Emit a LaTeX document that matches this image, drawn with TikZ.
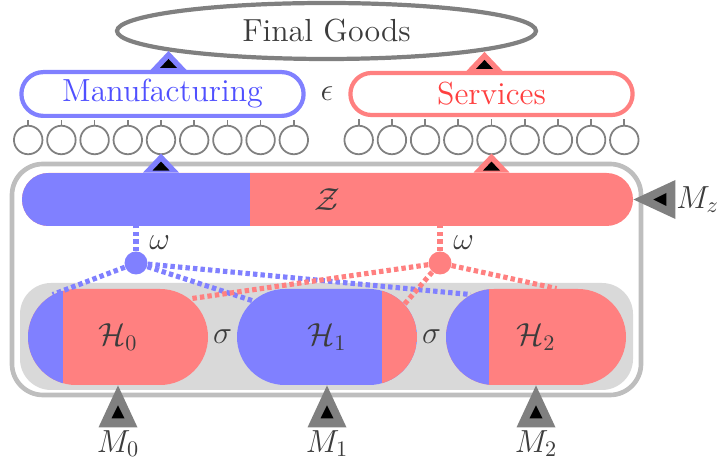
\documentclass[tikz,border=0pt]{standalone}
\usetikzlibrary{shapes.geometric, shapes.misc, positioning, calc}
\usepackage{amsmath}
\definecolor{sectorBlue}{RGB}{128,128,255}
\definecolor{sectorRed}{RGB}{255,128,128}
\definecolor{labelBlue}{RGB}{80,80,255}
\definecolor{labelRed}{RGB}{255,64,64}
\definecolor{frameSilver}{RGB}{190,190,190}
\definecolor{bandGray}{RGB}{217,217,217}
\definecolor{inkGray}{RGB}{60,60,60}
\newlength{\pxu}
\setlength{\pxu}{0.451pt}

\tikzset{
  outport/.pic={
    \fill[#1] (0,-19) -- (-18,0) -- (18,0) -- cycle;
    \fill[black] (0,-11) -- (-8.5,-2) -- (8.5,-2) -- cycle;
  },
  inport/.pic={
    \fill[gray] (0,0) -- (-19.5,42) -- (19.5,42) -- cycle;
    \fill[black] (0,20) -- (-6.5,33) -- (6.5,33) -- cycle;
  },
  blueleft/.style={path picture={\fill[sectorBlue] (path picture bounding box.south west) rectangle ([xshift=#1*\pxu]path picture bounding box.north west);}},
  redright/.style={path picture={\fill[sectorRed] ([xshift=-#1*\pxu]path picture bounding box.south east) rectangle (path picture bounding box.north east);}}
}

\begin{document}
\begin{tikzpicture}[
    x=\pxu, y=-\pxu,
    sector/.style={rounded rectangle, line width=1.9pt, fill=white, minimum width=297*\pxu, minimum height=42*\pxu, font=\Large},
    firm/.style={circle, draw=gray, line width=0.8pt, fill=white, minimum size=28.5*\pxu, inner sep=0pt},
    tick/.style={draw=gray, line width=0.8pt, shorten >=1pt},
    capsule/.style={rounded rectangle, fill=sectorRed, minimum width=180*\pxu, minimum height=96*\pxu, inner sep=0pt, font=\Large, text=inkGray},
    wdot/.style={circle, minimum size=23*\pxu, inner sep=0pt},
    link/.style={line width=2.3pt, dash pattern=on 2pt off 1.4pt},
    mlabel/.style={font=\Large, text=inkGray}
]
\useasboundingbox (0,0) rectangle (719,463);

% Final goods and sectors
\node[ellipse, draw=gray, line width=1.9pt, minimum width=419*\pxu, minimum height=56*\pxu, font=\Large, text=inkGray] (goods) at (326.5,31) {Final Goods};
\node[sector, draw=sectorBlue, text=labelBlue] (man) at (162.5,94) {Manufacturing};
\node[sector, draw=sectorRed, text=labelRed] (ser) at (491.5,94) {Services};
\node[mlabel] (eps) at ($(man.east)!0.5!(ser.west)$) {$\epsilon$};
\pic at ([xshift=6*\pxu]man.north) {outport=sectorBlue};
\pic at ([xshift=-7*\pxu]ser.north) {outport=sectorRed};

% Firms
\foreach \i in {1,...,9}{
  \node[firm] (mf\i) at ({161+33.2*(\i-5)},140) {};
  \node[firm] (sf\i) at ({491.5+33.2*(\i-5)},140) {};
  \draw[tick] (mf\i.north) -- (mf\i.north |- man.south);
  \draw[tick] (sf\i.north) -- (sf\i.north |- ser.south);
}

% Economy frame and household band
\node[draw=frameSilver, line width=2.1pt, rounded corners=14pt, minimum width=629*\pxu, minimum height=231*\pxu] (econ) at (326.5,279.5) {};
\node[fill=bandGray, rounded corners=14pt, minimum width=613*\pxu, minimum height=107*\pxu] (band) at (326.5,336.5) {};

% Capital stock
\node[capsule, blueleft=228, minimum width=611*\pxu, minimum height=53*\pxu] (z) at (327.5,199.5) {$\mathcal{Z}$};
\pic at (mf5 |- z.north) {outport=sectorBlue};
\pic at (sf5 |- z.north) {outport=sectorRed};
\pic[rotate=90] at (z.east) {inport};
\node[mlabel, right=35*\pxu of z] (labz) {$M_z$};

% Households
\node[capsule, blueleft=35] (h0) at (118,337) {$\mathcal{H}_0$};
\node[capsule, fill=sectorBlue, redright=35] (h1) at (327,337) {$\mathcal{H}_1$};
\node[capsule, blueleft=43] (h2) at (536,337) {$\mathcal{H}_2$};
\node[mlabel] (sig01) at ($(h0.east)!0.5!(h1.west)$) {$\sigma$};
\node[mlabel] (sig12) at ($(h1.east)!0.5!(h2.west)$) {$\sigma$};

\pic at (h0.south) {inport};
\pic at (h1.south) {inport};
\pic at (h2.south) {inport};
\node[mlabel, below=37*\pxu of h0] (lab0) {$M_0$};
\node[mlabel, below=37*\pxu of h1] (lab1) {$M_1$};
\node[mlabel, below=37*\pxu of h2] (lab2) {$M_2$};

% Ownership shares
\node[wdot, fill=sectorBlue] (wb) at (136,263) {};
\node[wdot, fill=sectorRed] (wr) at (440,263) {};
\node[mlabel, above right=0pt of wb, inner sep=2pt] (wbl) {$\omega$};
\node[mlabel, above right=0pt of wr, inner sep=2pt] (wrl) {$\omega$};

\draw[link, sectorBlue] (wb) -- (wb |- z.south);
\draw[link, sectorBlue] (wb) -- (h0.147);
\draw[link, sectorBlue] (wb) -- (h1.154);
\draw[link, sectorBlue] (wb) -- (h2.147);
\draw[link, sectorRed] (wr) -- (wr |- z.south);
\draw[link, sectorRed] (wr) -- (h0.28);
\draw[link, sectorRed] (wr) -- (h1.23);
\draw[link, sectorRed] (wr) -- (h2.67);

\end{tikzpicture}
\end{document}
